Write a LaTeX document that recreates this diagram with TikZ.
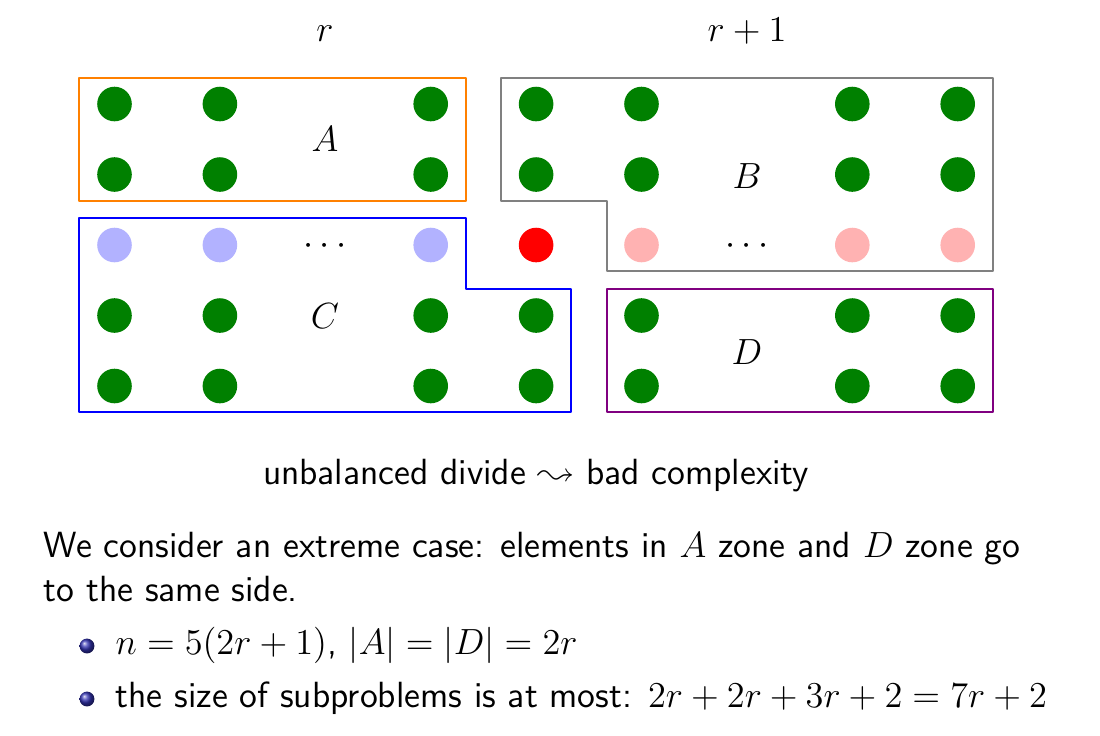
\documentclass[tikz,border=0pt]{standalone}
\usepackage{latexsym}
\usepackage{fontspec}
\definecolor{dgreen}{rgb}{0,0.5,0}
\definecolor{dpurple}{rgb}{0.5,0,0.5}
\definecolor{bulletblue}{rgb}{0.2,0.2,0.7}
\begin{document}
\begin{tikzpicture}[x=0.3295pt,y=-0.3295pt,
  font=\fontsize{12}{14.5}\selectfont\sffamily,
  dot/.style={circle,inner sep=0pt,minimum size=11.4pt},
  gdot/.style={dot,fill=dgreen},
  bdot/.style={dot,fill=blue!30},
  pdot/.style={dot,fill=red!30},
  rdot/.style={dot,fill=red},
  zone/.style={line width=0.8pt,line join=round},
  ballbullet/.style={circle,inner sep=0pt,minimum size=4.9pt,shading=ball,ball color=bulletblue},
  txt/.style={anchor=base west,inner sep=0pt},
  ctxt/.style={anchor=base,inner sep=0pt}]
\useasboundingbox (0,0) rectangle (1100,735);
% dots
\foreach \r in {0,1,3,4}{
  \foreach \c in {0,1,3,4,5,7,8}{
    \node[gdot] (d-\r-\c) at ({114.5+105.4*\c},{104+70.5*\r}) {};
  }
}
\foreach \c in {0,1,3}{
  \node[bdot] (d-2-\c) at ({114.5+105.4*\c},245) {};
}
\node[rdot] (d-2-4) at ({114.5+105.4*4},245) {};
\foreach \c in {5,7,8}{
  \node[pdot] (d-2-\c) at ({114.5+105.4*\c},245) {};
}
% zones
\draw[zone,orange] (79,78) rectangle (466,201);
\draw[zone,blue] (79,218) -- (466,218) -- (466,289) -- (571,289) -- (571,412) -- (79,412) -- cycle;
\draw[zone,gray] (501,78) -- (993,78) -- (993,271) -- (607,271) -- (607,201) -- (501,201) -- cycle;
\draw[zone,dpurple] (607,289) rectangle (993,412);
% labels
\node[ctxt] (lr) at (325,41) {$r$};
\node[ctxt] (lr1) at (747,41) {$r+1$};
\node (la) at (325,139.5) {$A$};
\node (lb) at (747,176) {$B$};
\node (lc) at (325,316) {$C$};
\node (ld) at (747,352) {$D$};
\node[ctxt] (dots1) at (325,254) {$\cdots$};
\node[ctxt] (dots2) at (747,254) {$\cdots$};
% text
\node[ctxt] (cap) at (536,484) {unbalanced divide $\leadsto$ bad complexity};
\node[txt] (p1) at (43,557) {We consider an extreme case: elements in $A$ zone and $D$ zone go};
\node[txt] (p2) at (43,601) {to the same side.};
\node[ballbullet] (b1) at (87,646) {};
\node[ballbullet] (b2) at (87,699) {};
\node[txt] (i1) at (115,654) {$n=5(2r+1)$, $|A|=|D|=2r$};
\node[txt] (i2) at (115,707) {the size of subproblems is at most: $2r+2r+3r+2=7r+2$};
\end{tikzpicture}
\end{document}
